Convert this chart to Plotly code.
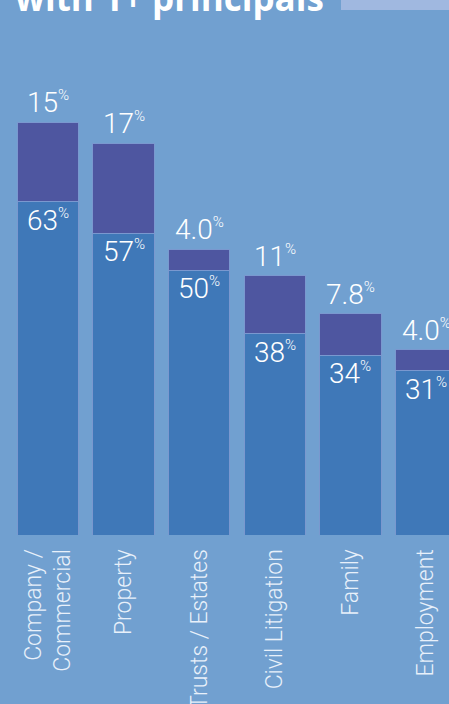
import plotly.graph_objects as go

categories = ["Company /<br>Commercial", "Property", "Trusts / Estates",
              "Civil Litigation", "Family", "Employment"]
base_values = [63, 57, 50, 38, 34, 31]
top_values = [15, 17, 4.0, 11, 7.8, 4.0]
base_labels = ["63", "57", "50", "38", "34", "31"]
top_labels = ["15", "17", "4.0", "11", "7.8", "4.0"]

BG = "#71a0d0"
BLUE = "#3f78b8"
PURPLE = "#4e56a0"
LABEL_FONT = "Roboto"

fig = go.Figure()
fig.add_trace(go.Bar(
    x=categories, y=base_values, marker_color=BLUE,
    marker_line={"color": "#7a98cf", "width": 1}, hoverinfo="skip",
))
fig.add_trace(go.Bar(
    x=categories, y=top_values, marker_color=PURPLE,
    marker_line={"color": "#7a98cf", "width": 1}, hoverinfo="skip",
))


def pct(num):
    return f"{num}<sup><span style='font-size:15px'>%</span></sup>"


for cat, b, t, bl, tl in zip(categories, base_values, top_values, base_labels, top_labels):
    fig.add_annotation(
        x=cat, y=b + t, text=pct(tl), showarrow=False,
        yanchor="bottom", yshift=1,
        font={"family": LABEL_FONT, "size": 28, "color": "white", "weight": 300},
    )
    fig.add_annotation(
        x=cat, y=b, text=pct(bl), showarrow=False,
        yanchor="top", yshift=0,
        font={"family": LABEL_FONT, "size": 28, "color": "white", "weight": 300},
    )

# cut-off heading and light bar beside it
fig.add_annotation(
    xref="paper", yref="paper", x=0.03, y=1, xanchor="left", yanchor="top",
    yshift=28, text="<b>with 1+ principals</b>", showarrow=False,
    font={"family": "Open Sans", "size": 35, "color": "white"},
)
fig.add_shape(
    type="rect", xref="paper", yref="paper", x0=341 / 449, x1=1.0,
    y0=1 - 10 / 535, y1=1.0, line={"width": 0}, fillcolor="#a0b8e0",
)

fig.update_layout(
    width=449, height=704,
    barmode="stack", bargap=0.19,
    paper_bgcolor=BG, plot_bgcolor=BG,
    showlegend=False,
    margin={"l": 0, "r": 0, "t": 0, "b": 169},
    xaxis={
        "range": [-0.635, 5.304], "tickangle": -90, "automargin": False,
        "ticks": "outside", "ticklen": 4, "tickcolor": "rgba(0,0,0,0)",
        "tickfont": {"family": LABEL_FONT, "size": 23, "color": "#e8f0fa", "weight": 300},
        "showgrid": False, "zeroline": False, "showline": False,
    },
    yaxis={
        "range": [0, 101.1], "visible": False, "automargin": False,
    },
)

fig.write_html(
    "out.html",
    config={"displayModeBar": False},
    post_script="document.body.style.margin='0';document.body.style.overflow='hidden';",
)
